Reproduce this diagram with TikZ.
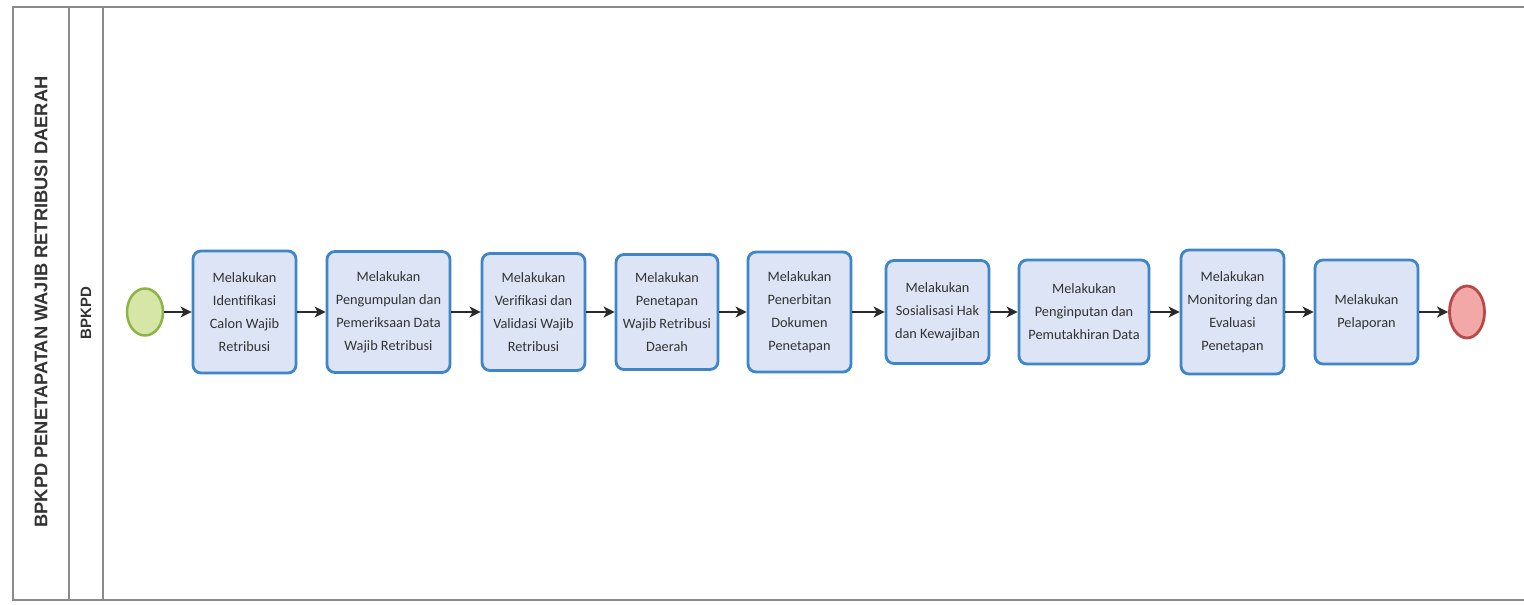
\documentclass[tikz,border=0pt]{standalone}
\usepackage{fontspec}
\setmainfont{Carlito}
\newfontfamily\lanefont{Liberation Sans}
\usetikzlibrary{arrows.meta,shapes.geometric}
\definecolor{taskborder}{HTML}{3F86C8}
\definecolor{taskfill}{HTML}{DCE4F5}
\definecolor{textgray}{HTML}{333333}
\definecolor{flowgray}{HTML}{2A2A2A}
\definecolor{lanegray}{HTML}{8A8A8A}
\definecolor{startfill}{HTML}{D6E6A6}
\definecolor{startborder}{HTML}{8DB444}
\definecolor{endfill}{HTML}{F1A8A6}
\definecolor{endborder}{HTML}{B9484A}
\begin{document}
\begin{tikzpicture}[x=1pt,y=-1pt,
  task/.style={draw=taskborder, line width=2.8pt, fill=taskfill, rounded corners=8pt,
    align=center, font=\fontsize{14.3}{23}\selectfont, text=textgray, inner sep=0pt},
  flow/.style={draw=flowgray, line width=2.1pt, -{Stealth[length=11pt,width=11pt,inset=3pt]}},
  lane/.style={draw=lanegray, line width=1.1pt},
  lanetitle/.style={rotate=90, text=textgray, font=\lanefont\bfseries\fontsize{18.3}{20}\selectfont},
  lanename/.style={rotate=90, text=textgray, font=\lanefont\bfseries\fontsize{15}{18}\selectfont},
  startev/.style={ellipse, draw=startborder, fill=startfill, line width=2.5pt, inner sep=0pt},
  endev/.style={ellipse, draw=endborder, fill=endfill, line width=2.8pt, inner sep=0pt}]
\useasboundingbox (0,0) rectangle (1524,605);
% pool frame
\draw[lane] (1524,7) -- (13,7) -- (13,600) -- (1524,600);
\draw[lane] (69,7) -- (69,600);
\draw[lane] (103,7) -- (103,600);
\node[lanetitle] (pool) at (41,302) {BPKPD PENETAPATAN WAJIB RETRIBUSI DAERAH};
\node[lanename] (lanelbl) at (86,313) {BPKPD};
% events
\node[startev, minimum width=36pt, minimum height=47pt] (s) at (145,312) {};
\node[endev, minimum width=35pt, minimum height=52pt] (e) at (1467,312) {};
% tasks
\node[task, minimum width=103pt, minimum height=122pt] (t1) at (244.5,312) {Melakukan\\Identifikasi\\Calon Wajib\\Retribusi};
\node[task, minimum width=123pt, minimum height=121pt] (t2) at (388.5,312) {Melakukan\\Pengumpulan dan\\Pemeriksaan Data\\Wajib Retribusi};
\node[task, minimum width=103pt, minimum height=117pt] (t3) at (533.5,312) {Melakukan\\Verifikasi dan\\Validasi Wajib\\Retribusi};
\node[task, minimum width=102pt, minimum height=115pt] (t4) at (667,312) {Melakukan\\Penetapan\\Wajib Retribusi\\Daerah};
\node[task, minimum width=103pt, minimum height=120pt] (t5) at (799.5,312) {Melakukan\\Penerbitan\\Dokumen\\Penetapan};
\node[task, minimum width=103pt, minimum height=103pt] (t6) at (937.5,312) {Melakukan\\Sosialisasi Hak\\dan Kewajiban};
\node[task, minimum width=130pt, minimum height=104pt] (t7) at (1084,312) {Melakukan\\Penginputan dan\\Pemutakhiran Data};
\node[task, minimum width=103pt, minimum height=124pt] (t8) at (1232.5,312) {Melakukan\\Monitoring dan\\Evaluasi\\Penetapan};
\node[task, minimum width=103pt, minimum height=104pt] (t9) at (1366.5,312) {Melakukan\\Pelaporan};
% flows
\draw[flow] (s) -- (t1);
\draw[flow] (t1) -- (t2);
\draw[flow] (t2) -- (t3);
\draw[flow] (t3) -- (t4);
\draw[flow] (t4) -- (t5);
\draw[flow] (t5) -- (t6);
\draw[flow] (t6) -- (t7);
\draw[flow] (t7) -- (t8);
\draw[flow] (t8) -- (t9);
\draw[flow] (t9) -- (e);
\end{tikzpicture}
\end{document}
